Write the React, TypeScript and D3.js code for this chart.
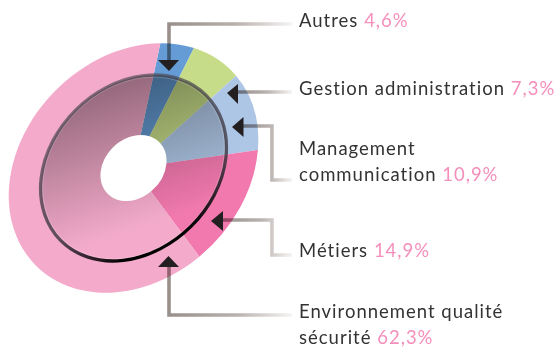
import React from 'react'
import * as d3 from 'd3'

const categories = ['Autres', 'Gestion administration', 'Management communication', 'Métiers', 'Environnement qualité sécurité']
const shares = [4.6, 7.3, 10.9, 14.9, 62.3]
const shareLabels = ['4,6%', '7,3%', '10,9%', '14,9%', '62,3%']
const sliceColors = ['#659cd5', '#c7dc88', '#aec6e5', '#f179ae', '#f4abcb']

const width = 556
const height = 347
const cx = 133.5
const cy = 168
const radius = 100 // pie is drawn on a circle, then squashed and tilted
const chartTransform = `translate(${cx},${cy}) rotate(-45) scale(1.38,1.1)`
// gradients below are given in page pixels, so undo the tilt for them
const pageSpace = `scale(${1 / 1.38},${1 / 1.1}) rotate(45) translate(${-cx},${-cy})`

const pie = d3
  .pie<number>()
  .sort(null)
  .startAngle((51 * Math.PI) / 180)
  .endAngle((411 * Math.PI) / 180)

const sliceArc = d3.arc<d3.PieArcDatum<number>>().innerRadius(26.5).outerRadius(radius)
const shadeArc = d3.arc()({ innerRadius: 26.5, outerRadius: 74.5, startAngle: 0, endAngle: 2 * Math.PI })

// elbow leader lines, one per label, [x, y] from the arrow to the label
const leaders: [number, number][][] = [
  [[169, 62], [169, 24], [292, 24]],
  [[236, 92], [292, 92]],
  [[242, 126], [272, 126], [272, 180], [292, 180]],
  [[221, 220], [272, 220], [272, 255], [292, 255]],
  [[169, 265], [169, 315], [292, 315]],
]
const arrowHeads: [number, number][][] = [
  [[158, 60], [179, 60], [169, 71]],
  [[227, 93], [238, 84], [238, 104]],
  [[232, 127], [243.5, 117], [243.5, 137]],
  [[211, 221], [223, 211], [223, 231]],
  [[168.5, 256], [158, 267], [179, 267]],
]
const line = d3.line()

const labels = [
  { lines: ['Autres'], y: 27 },
  { lines: ['Gestion administration'], y: 94.5 },
  { lines: ['Management', 'communication'], y: 155 },
  { lines: ['Métiers'], y: 257 },
  { lines: ['Environnement qualité', 'sécurité'], y: 318 },
]
const lineStep = 26

export default function App() {
  const slices = pie(shares)
  return (
    <svg
      width={width}
      height={height}
      style={{ position: 'absolute', left: 0, top: 0 }}
      fontFamily="Lato, sans-serif"
    >
      <defs>
        <linearGradient id="shade" gradientUnits="userSpaceOnUse" gradientTransform={pageSpace} x1={100} y1={75} x2={150} y2={225}>
          <stop offset="0" stopColor="#000" stopOpacity={0.42} />
          <stop offset="1" stopColor="#000" stopOpacity={0} />
        </linearGradient>
        <linearGradient id="ring" gradientUnits="userSpaceOnUse" gradientTransform={pageSpace} x1={110} y1={90} x2={185} y2={240}>
          <stop offset="0" stopColor="#4a4650" stopOpacity={0.65} />
          <stop offset="0.65" stopColor="#3c3640" stopOpacity={0.8} />
          <stop offset="0.87" stopColor="#2a1a24" />
          <stop offset="0.95" stopColor="#000" />
        </linearGradient>
        {leaders.map((pts, i) => (
          <linearGradient key={i} id={`lead${i}`} gradientUnits="userSpaceOnUse" x1={pts[0][0]} y1={0} x2={292} y2={0}>
            <stop offset="0" stopColor="#998f8b" />
            <stop offset="0.55" stopColor="#b8b1ae" />
            <stop offset="1" stopColor="#f6f4f3" />
          </linearGradient>
        ))}
      </defs>

      <g transform={chartTransform}>
        {slices.map((d, i) => (
          <path key={categories[i]} d={sliceArc(d) as string} fill={sliceColors[i]} />
        ))}
      </g>
      <path d={shadeArc as string} transform={chartTransform} fill="url(#shade)" />
      <g transform={chartTransform}>
        <circle r={74.5} fill="none" stroke="url(#ring)" strokeWidth={3.3} vectorEffect="non-scaling-stroke" />
        <circle r={72.8} fill="none" stroke="#fff" strokeOpacity={0.3} strokeWidth={0.6} vectorEffect="non-scaling-stroke" />
      </g>

      {leaders.map((pts, i) => (
        <path
          key={i}
          d={line(pts) as string}
          fill="none"
          stroke={`url(#lead${i})`}
          strokeWidth={3.6}
          style={{ mixBlendMode: 'multiply' }}
        />
      ))}
      {arrowHeads.map((pts, i) => (
        <path key={i} d={`${line(pts)}Z`} fill="#231f20" />
      ))}

      {labels.map((label, i) => (
        <text key={categories[i]} x={299} y={label.y} fontSize={18.5} fill="#333" letterSpacing={1}>
          {label.lines.map((t, j) => (
            <tspan key={j} x={299} y={label.y + j * lineStep}>
              {t}
              {j === label.lines.length - 1 ? (
                <tspan fill="#f48fbb"> {shareLabels[i]}</tspan>
              ) : null}
            </tspan>
          ))}
        </text>
      ))}
    </svg>
  )
}
